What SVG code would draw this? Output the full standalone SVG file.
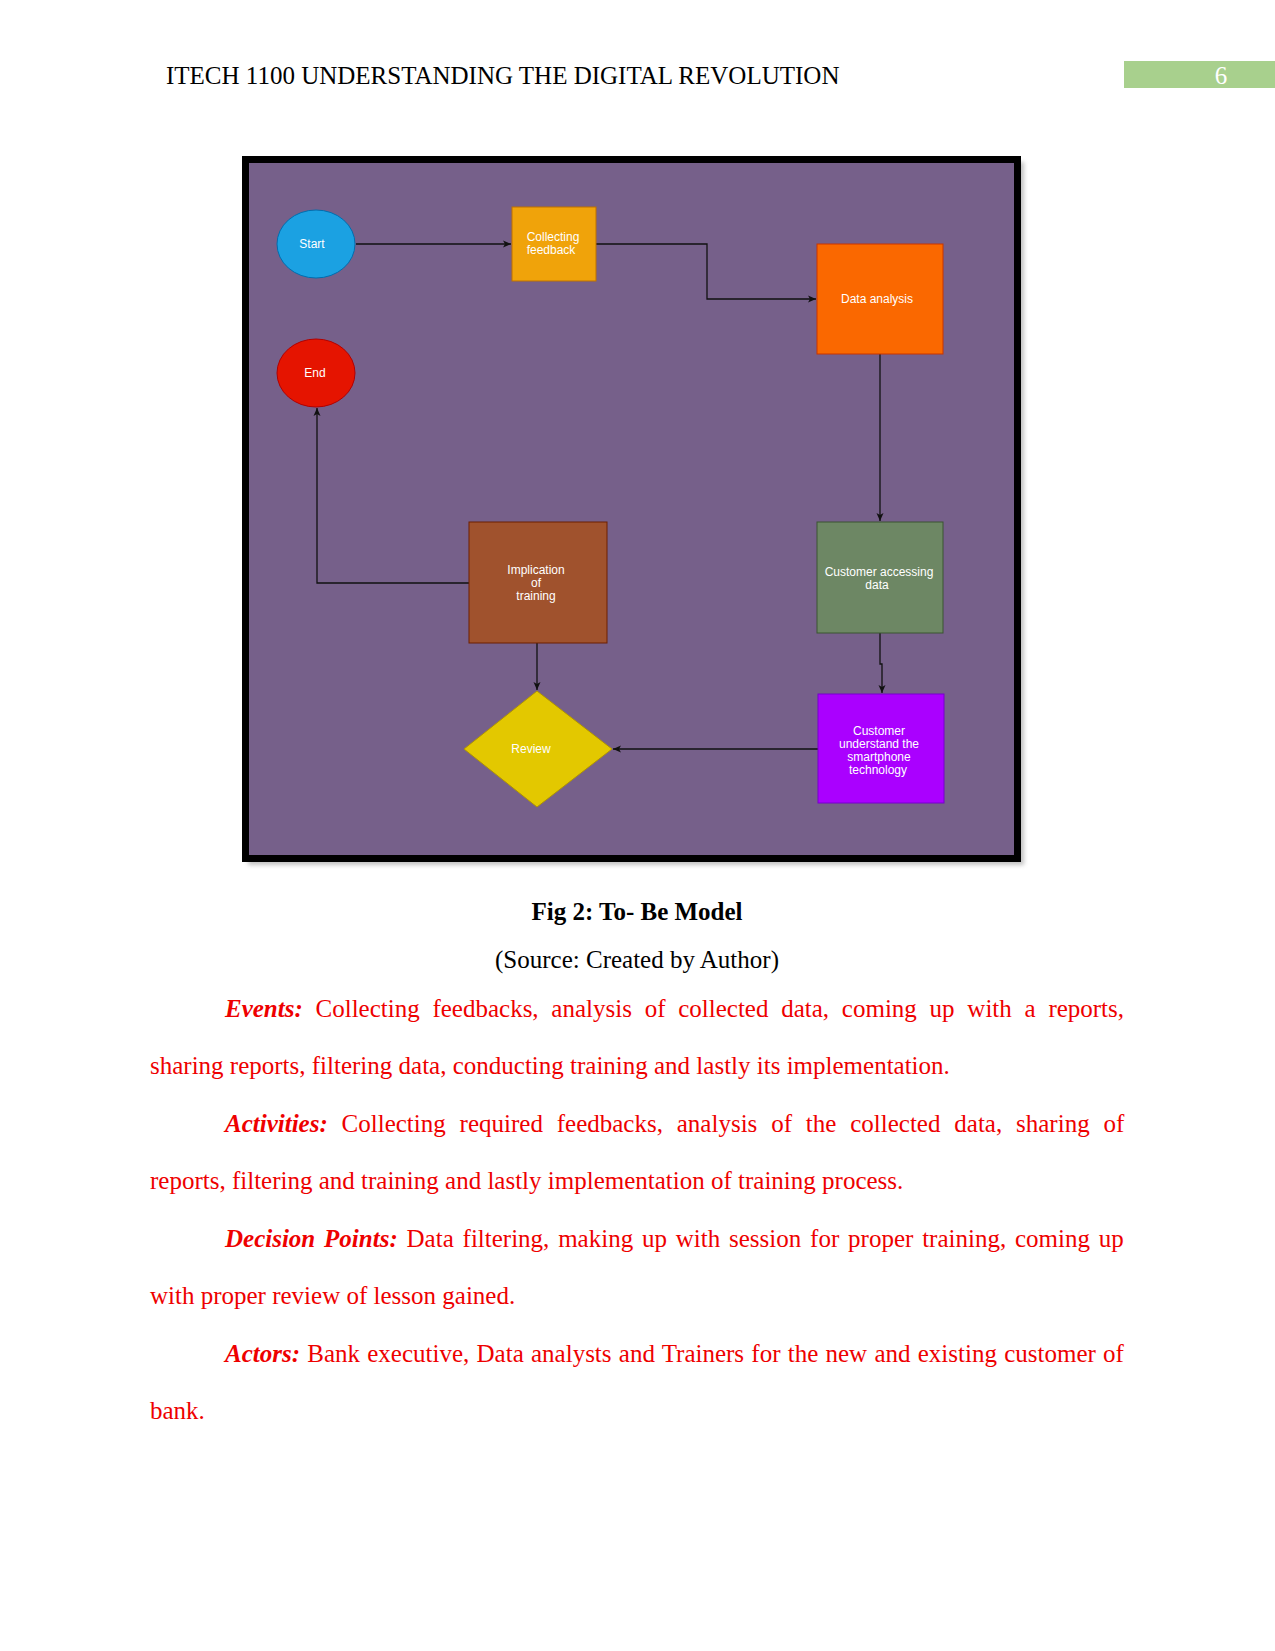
<svg xmlns="http://www.w3.org/2000/svg" width="1275" height="1651" viewBox="0 0 1275 1651">
<style>
.hdr{font-family:"Liberation Serif","Times New Roman",serif;font-size:25px;fill:#000}
.body{font-family:"Liberation Serif","Times New Roman",serif;font-size:25px;fill:#ee0000}
.lbl{font-weight:bold;font-style:italic}
.cap{font-family:"Liberation Serif","Times New Roman",serif;font-size:25px;fill:#000;text-anchor:middle}
.nt{font-family:"Liberation Sans",Arial,sans-serif;font-size:12px;fill:#ffffff;text-anchor:middle}
.conn path{fill:none;stroke:#111;stroke-width:1.3;marker-end:url(#arr)}
</style>
<defs>
<marker id="arr" markerUnits="userSpaceOnUse" markerWidth="10" markerHeight="10" viewBox="0 0 10 10" refX="9" refY="5" orient="auto">
<path d="M1,1.5 L9,5 L1,8.5 L3,5 z" fill="#111"/>
</marker>
<filter id="sh" x="-5%" y="-5%" width="110%" height="110%"><feGaussianBlur stdDeviation="2"/></filter>
</defs>
<rect width="1275" height="1651" fill="#ffffff"/>
<!-- header -->
<text class="hdr" x="166" y="84">ITECH 1100 UNDERSTANDING THE DIGITAL REVOLUTION</text>
<rect x="1124" y="61" width="151" height="27" fill="#a8d08d"/>
<text class="hdr" x="1221" y="84" text-anchor="middle" style="fill:#ffffff">6</text>
<!-- frame -->
<rect x="248" y="162" width="776" height="703" fill="#9a9a9a" opacity="0.6" filter="url(#sh)"/>
<rect x="245.5" y="159.5" width="772" height="699" fill="#76608a" stroke="#000" stroke-width="7"/>
<!-- connectors -->
<g id="connectors" class="conn">
<path d="M356,244 H511"/>
<path d="M596,244 H707 V299 H816"/>
<path d="M880,354 V521"/>
<path d="M880,633 V664 H882 V693"/>
<path d="M818,749 H613"/>
<path d="M537,643 V690"/>
<path d="M469,583 H317 V408"/>
</g>
<!-- nodes -->
<g id="start">
<ellipse cx="316" cy="244" rx="39" ry="34" fill="#1ba1e2" stroke="#006eaf"/>
<text class="nt" x="312" y="248">Start</text>
</g>
<g id="end">
<ellipse cx="316" cy="373" rx="39" ry="34" fill="#e51400" stroke="#b20000"/>
<text class="nt" x="315" y="377">End</text>
</g>
<g id="collecting">
<rect x="512" y="207" width="84" height="74" fill="#f0a30a" stroke="#bd7000"/>
<text class="nt" x="553" y="241">Collecting</text>
<text class="nt" x="551" y="254">feedback</text>
</g>
<g id="analysis">
<rect x="817" y="244" width="126" height="110" fill="#fa6800" stroke="#c73500"/>
<text class="nt" x="877" y="303">Data analysis</text>
</g>
<g id="accessing">
<rect x="817" y="522" width="126" height="111" fill="#6d8764" stroke="#3a5431"/>
<text class="nt" x="879" y="576">Customer accessing</text>
<text class="nt" x="877" y="589">data</text>
</g>
<g id="understand">
<rect x="818" y="694" width="126" height="109" fill="#aa00ff" stroke="#7700cc"/>
<text class="nt" x="879" y="735">Customer</text>
<text class="nt" x="879" y="748">understand the</text>
<text class="nt" x="879" y="761">smartphone</text>
<text class="nt" x="878" y="774">technology</text>
</g>
<g id="implication">
<rect x="469" y="522" width="138" height="121" fill="#a0522d" stroke="#6d1f00"/>
<text class="nt" x="536" y="574">Implication</text>
<text class="nt" x="536" y="587">of</text>
<text class="nt" x="536" y="600">training</text>
</g>
<g id="review">
<polygon points="537,691 612,749 537,807 464,749" fill="#e3c800" stroke="#b09500"/>
<text class="nt" x="531" y="753">Review</text>
</g>
<!-- caption -->
<text class="cap" x="637" y="920" font-weight="bold">Fig 2: To- Be Model</text>
<text class="cap" x="637" y="968">(Source: Created by Author)</text>
<!-- body -->
<text class="body" x="225" y="1017" word-spacing="6.5"><tspan class="lbl">Events:</tspan> Collecting feedbacks, analysis of collected data, coming up with a reports,</text>
<text class="body" x="150" y="1074">sharing reports, filtering data, conducting training and lastly its implementation.</text>
<text class="body" x="225" y="1132" word-spacing="7.6"><tspan class="lbl">Activities:</tspan> Collecting required feedbacks, analysis of the collected data, sharing of</text>
<text class="body" x="150" y="1189">reports, filtering and training and lastly implementation of training process.</text>
<text class="body" x="225" y="1247" word-spacing="2.57"><tspan class="lbl">Decision Points:</tspan> Data filtering, making up with session for proper training, coming up</text>
<text class="body" x="150" y="1304">with proper review of lesson gained.</text>
<text class="body" x="225" y="1362" word-spacing="1.0"><tspan class="lbl">Actors:</tspan> Bank executive, Data analysts and Trainers for the new and existing customer of</text>
<text class="body" x="150" y="1419">bank.</text>
</svg>
